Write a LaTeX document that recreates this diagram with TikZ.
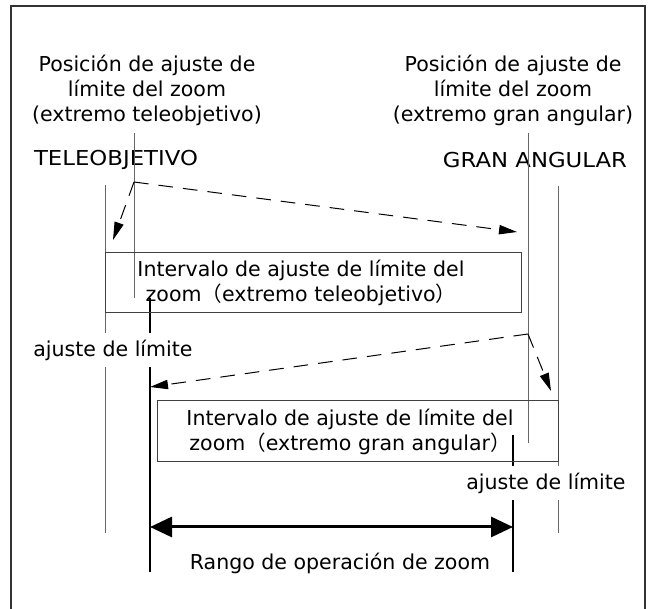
\documentclass[tikz,border=0pt]{standalone}
\usepackage{fontspec}
\setmainfont{DejaVu Sans}
\newfontfamily\cjk{Noto Sans CJK JP}
\usetikzlibrary{arrows.meta,fit}
\newcommand{\fwl}{{\cjk （}}
\newcommand{\fwr}{{\cjk ）}}
\begin{document}
\begin{tikzpicture}[
  x=0.75pt, y=-0.75pt,
  every node/.style={font=\fontsize{15.4}{18.75}\selectfont, inner sep=0pt},
  caps/.style={font=\fontsize{15.4}{18.75}\selectfont\addfontfeature{FakeStretch=1.11}},
  frame/.style={line width=1.8pt, draw=black!80},
  guide/.style={line width=0.75pt, draw=black!60},
  stop/.style={line width=1.5pt, draw=black},
  box/.style={draw=black!75, line width=0.75pt, inner sep=0pt},
  jump/.style={dash pattern=on 11pt off 7.5pt, line width=0.75pt,
    -{Triangle[length=13.5pt,width=7pt]}},
  oprange/.style={line width=2.25pt,
    {Triangle[length=16.5pt,width=15pt]}-{Triangle[length=16.5pt,width=15pt]}},
  gapnode/.style={fill=white, inner ysep=5pt}
]
\useasboundingbox (0,0) rectangle (651,609);
\draw[frame] (11,609) -- (11,6) -- (645,6) -- (645,609);
% titles
\node[align=center] (posT) at (147,90) {Posición de ajuste de\\límite del zoom\\(extremo teleobjetivo)};
\node[align=center] (posG) at (513,90) {Posición de ajuste de\\límite del zoom\\(extremo gran angular)};
\node[caps] (tele) at (116,160) {TELEOBJETIVO};
\node[caps] (gran) at (535,160) {GRAN ANGULAR};
% line ends
\coordinate (aT) at (134,133); \coordinate (aB) at (134,298);
\coordinate (bT) at (105,185); \coordinate (bB) at (105,533);
\coordinate (cT) at (150,298); \coordinate (cB) at (150,572);
\coordinate (dT) at (528,133); \coordinate (dB) at (528,443);
\coordinate (eT) at (558,186); \coordinate (eB) at (558,533);
\coordinate (fT) at (513,435); \coordinate (fB) at (513,572);
\draw[guide] (aT) -- (aB);
\draw[guide] (dT) -- (dB);
\draw[guide] (bT) -- (bB);
\draw[guide] (eT) -- (eB);
\draw[stop] (cT) -- (cB);
\draw[stop] (fT) -- (fB);
% setting intervals
\coordinate (b1a) at (105,253); \coordinate (b1b) at (521,313);
\coordinate (b2a) at (157,401); \coordinate (b2b) at (558,462);
\node[box, fit=(b1a)(b1b)] (boxT) {};
\node[box, fit=(b2a)(b2b)] (boxG) {};
\node[align=center] (txtT) at (301,283) {Intervalo de ajuste de límite del\\zoom\fwl extremo teleobjetivo\fwr};
\node[align=center] (txtG) at (350,432) {Intervalo de ajuste de límite del\\zoom\fwl extremo gran angular\fwr};
\node[gapnode] (adjT) at (113,350) {ajuste de límite};
\node[gapnode] (adjG) at (546,483) {ajuste de límite};
% dashed moves
\coordinate (sT) at (134,182); \coordinate (sG) at (528,334);
\coordinate (tT) at (113,240); \coordinate (tG) at (517,232);
\coordinate (uT) at (150,387); \coordinate (uG) at (551,391);
\draw[jump] (sT) -- (tT);
\draw[jump] (sT) -- (tG);
\draw[jump] (sG) -- (uT);
\draw[jump] (sG) -- (uG);
% operating range
\coordinate (rL) at (150,527); \coordinate (rR) at (513,527);
\draw[oprange] (rL) -- (rR);
\node (rango) at (340,563) {Rango de operación de zoom};
\end{tikzpicture}
\end{document}
